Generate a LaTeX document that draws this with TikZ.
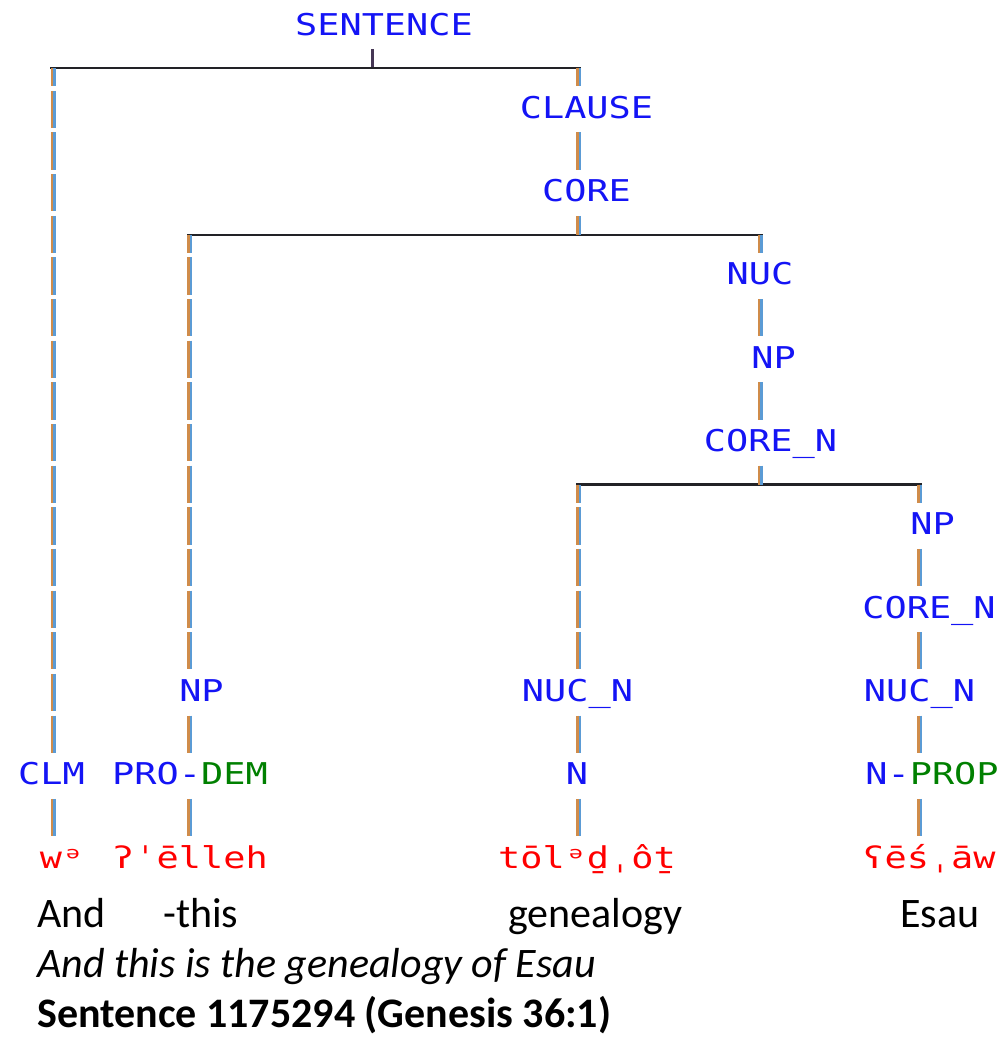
\documentclass[tikz,border=0pt]{standalone}
\usepackage{fontspec}
\newfontfamily\lblfont[FakeStretch=1.23]{DejaVu Sans Mono}
\newfontfamily\engfont{Carlito}
\definecolor{tblue}{RGB}{20,20,245}
\definecolor{tgreen}{RGB}{0,128,0}
\definecolor{tred}{RGB}{255,0,0}
\definecolor{vorange}{RGB}{208,140,74}
\definecolor{vblue}{RGB}{91,155,213}
\definecolor{hblack}{RGB}{34,34,38}
\definecolor{stubdark}{RGB}{70,55,85}
\begin{document}
\begin{tikzpicture}[x=1pt,y=-1pt,
  lbl/.style={font=\lblfont\fontsize{30}{30}\selectfont, text=tblue, inner sep=0pt, outer sep=0pt,
              text height=32pt, text depth=14.15pt, anchor=base},
  word/.style={lbl, text=tred},
  eng/.style={font=\engfont\fontsize{42}{50}\selectfont, inner sep=0pt, anchor=base west},
  engi/.style={eng, font=\engfont\fontsize{42}{50}\selectfont\itshape},
  engb/.style={eng, font=\engfont\fontsize{42}{50}\selectfont\bfseries},
  vl/.style={draw=vorange, line width=2.5pt, dash pattern=on 37.2pt off 4.45pt,
             postaction={draw=vblue, line width=2.5pt, transform canvas={xshift=2.5pt}}},
  frombar/.style={vl, dash phase=19pt},
  hl/.style={draw=hblack, line width=2.5pt},
  stubd/.style={draw=stubdark, line width=3pt}]
\fill[white] (0,0) rectangle (1008,1037);
\useasboundingbox (0,0) rectangle (1008,1037);
% columns and bars
\coordinate (c1) at (51.75,0);
\coordinate (c2) at (188.25,0);
\coordinate (c3) at (577.25,0);
\coordinate (c4) at (758.75,0);
\coordinate (c5) at (918.25,0);
\coordinate (sx) at (372.5,0);
\coordinate (b1) at (0,68.15);
\coordinate (b2) at (0,234.75);
\coordinate (b3) at (0,484.65);
% labels
\node[lbl] (sent) at (384,35) {SENTENCE};
\node[lbl] (clause) at (586.5,118.3) {CLAUSE};
\node[lbl] (core) at (586.5,201.6) {CORE};
\node[lbl] (nuc) at (760,284.9) {NUC};
\node[lbl] (np1) at (773.5,368.2) {NP};
\node[lbl] (coren1) at (770.5,451.5) {CORE\_N};
\node[lbl] (np2) at (932.5,534.8) {NP};
\node[lbl] (coren2) at (929,618.1) {CORE\_N};
\node[lbl] (nucn2) at (919.5,701.4) {NUC\_N};
\node[lbl] (nprop) at (932,784.7) {N-\textcolor{tgreen}{PROP}};
\node[word] (w4) at (929,868) {ʕēśˌāw};
\node[lbl] (npL) at (201.5,701.4) {NP};
\node[lbl] (prodem) at (190,784.7) {PRO-\textcolor{tgreen}{DEM}};
\node[word] (w2) at (190,868) {ʔˈēlleh};
\node[lbl] (clm) at (51.5,784.7) {CLM};
\node[word] (w1) at (62,868) {wᵊ};
\node[lbl] (nucn1) at (577.5,701.4) {NUC\_N};
\node[lbl] (n) at (577,784.7) {N};
\node[word] (w3) at (587,868) {tōlᵊḏˌôṯ};
% bars
\draw[stubd] (sent.south -| sx) -- (b1 -| sx);
\draw[hl] ([xshift=-1.75pt]b1 -| c1) -- ([xshift=3.75pt]b1 -| c3);
\draw[hl] ([xshift=-1.25pt]b2 -| c2) -- ([xshift=3.75pt]b2 -| c4);
\draw[hl] ([xshift=-1.25pt]b3 -| c3) -- ([xshift=3.75pt]b3 -| c5);
% SENTENCE children
\draw[frombar] (b1 -| c1) -- (clm.north -| c1);
\draw[frombar] (b1 -| c3) -- (clause.north -| c3);
\draw[vl] (clm.south -| c1) -- (w1.north -| c1);
\draw[vl] (clause.south -| c3) -- (core.north -| c3);
\draw[vl] (core.south -| c3) -- (b2 -| c3);
% CORE children
\draw[frombar] (b2 -| c2) -- (npL.north -| c2);
\draw[frombar] (b2 -| c4) -- (nuc.north -| c4);
\draw[vl] (npL.south -| c2) -- (prodem.north -| c2);
\draw[vl] (prodem.south -| c2) -- (w2.north -| c2);
\draw[vl] (nuc.south -| c4) -- (np1.north -| c4);
\draw[vl] (np1.south -| c4) -- (coren1.north -| c4);
\draw[vl] (coren1.south -| c4) -- (b3 -| c4);
% CORE_N children
\draw[frombar] (b3 -| c3) -- (nucn1.north -| c3);
\draw[frombar] (b3 -| c5) -- (np2.north -| c5);
\draw[vl] (nucn1.south -| c3) -- (n.north -| c3);
\draw[vl] (n.south -| c3) -- (w3.north -| c3);
\draw[vl] (np2.south -| c5) -- (coren2.north -| c5);
\draw[vl] (coren2.south -| c5) -- (nucn2.north -| c5);
\draw[vl] (nucn2.south -| c5) -- (nprop.north -| c5);
\draw[vl] (nprop.south -| c5) -- (w4.north -| c5);
% English
\node[eng] (e1) at (37,927) {And};
\node[eng] (e2) at (163,927) {-this};
\node[eng] (e3) at (508,927) {genealogy};
\node[eng] (e4) at (900,927) {Esau};
\node[engi] (tr) at (37,977) {And this is the genealogy of Esau};
\node[engb] (ref) at (37,1027) {Sentence 1175294 (Genesis 36:1)};
\end{tikzpicture}
\end{document}
